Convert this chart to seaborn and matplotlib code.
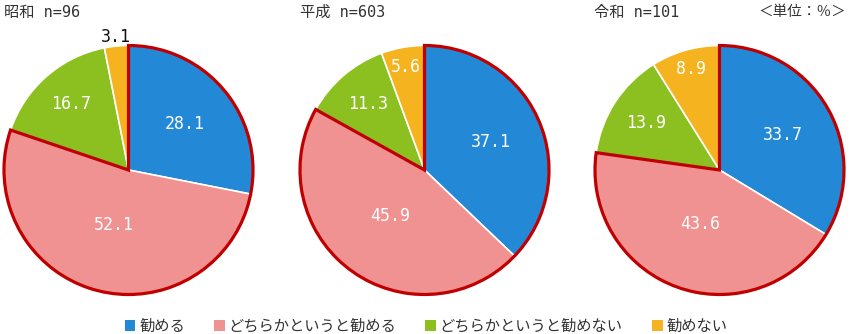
import matplotlib
matplotlib.use("Agg")
import matplotlib.pyplot as plt
import seaborn as sns
import numpy as np

sns.set_theme(style="white")
plt.rcParams['font.family'] = ['Noto Sans CJK JP', 'DejaVu Sans']

categories = ["勧める", "どちらかというと勧める", "どちらかというと勧めない", "勧めない"]
titles = ["昭和 n=96", "平成 n=603", "令和 n=101"]
showa = [28.1, 52.1, 16.7, 3.1]
heisei = [37.1, 45.9, 11.3, 5.6]
reiwa = [33.7, 43.6, 13.9, 8.9]
series = [showa, heisei, reiwa]
unit_label = "＜単位：％＞"

colors = ["#2389d7", "#f09292", "#8cc021", "#f5b320"]
outline = "#c00000"
label_dist = [0.58, 0.46, 0.70, 0.84]   # per-category label radius (style)
outside_dist = 1.07

W, H = 850, 334
fig = plt.figure(figsize=(W / 100, H / 100), dpi=100)

centers_x = [128.5, 424.5, 719.5]
cy = 170
R = 127
mono = ['DejaVu Sans Mono', 'Noto Sans CJK JP']
for i, vals in enumerate(series):
    cx = centers_x[i]
    ax = fig.add_axes([(cx - R) / W, (H - cy - R) / H, 2 * R / W, 2 * R / H])
    wedges, texts = ax.pie(
        vals, colors=colors, startangle=90, counterclock=False,
        labels=[f"{v:.1f}" for v in vals], labeldistance=1.0,
        wedgeprops=dict(edgecolor="white", linewidth=1.2),
        textprops=dict(color="white", fontsize=12, family=mono),
    )
    for k, (t, v) in enumerate(zip(texts, vals)):
        t.set_ha("center")
        t.set_va("center")
        x, y = t.get_position()
        d = outside_dist if v < 4 else label_dist[k]
        t.set_position((x * d, y * d))
        if v < 4:
            t.set_color("#111111")
    grp = [vals[0] + vals[1], vals[2] + vals[3]]
    ow, _ = ax.pie(grp, colors=["none", "none"], startangle=90, counterclock=False,
                   wedgeprops=dict(edgecolor=outline, linewidth=2.3))
    ow[1].set_edgecolor("none")
    for w in ow:
        w.set_zorder(5)
    ax.set_xlim(-1.02, 1.02)
    ax.set_ylim(-1.02, 1.02)
    ax.set_aspect("equal")
    ax.axis("off")
    fig.text((cx - 125) / W, 1 - 12 / H, titles[i], fontsize=11, color="#333333",
             ha="left", va="center", family=mono)

fig.text(846 / W, 1 - 12 / H, unit_label, fontsize=10.5, color="#333333",
         ha="right", va="center")

handles = [plt.Rectangle((0, 0), 1, 1, facecolor=c, edgecolor="none") for c in colors]
fig.legend(handles, categories, loc="center", bbox_to_anchor=(426 / W, 8 / H), ncol=4,
           frameon=False, fontsize=11, handlelength=0.7, handleheight=0.7,
           handletextpad=0.25, columnspacing=1.9, labelcolor="#333333")

fig.savefig("out.png", dpi=100)
